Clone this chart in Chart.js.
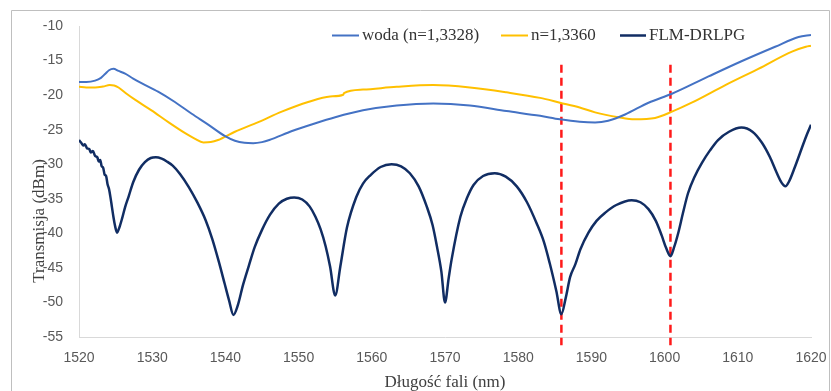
<!DOCTYPE html>
<html>
<head>
<meta charset="utf-8">
<script src="https://cdn.jsdelivr.net/npm/chart.js@4.4.1/dist/chart.umd.min.js"></script>
<style>
html,body{margin:0;padding:0;background:#fff;}
#wrap{width:831px;height:391px;position:relative;}
</style>
</head>
<body>
<div id="wrap"><canvas id="c" width="831" height="391"></canvas></div>
<script>
// ---- data ----
const xTicks = [1520, 1530, 1540, 1550, 1560, 1570, 1580, 1590, 1600, 1610, 1620];
const yTicks = [-10, -15, -20, -25, -30, -35, -40, -45, -50, -55];
const seriesNames = ['woda (n=1,3328)', 'n=1,3360', 'FLM-DRLPG'];

const wodaX = [1520.0,1521.0,1522.2,1523.0,1523.6,1524.1,1524.7,1525.4,1526.3,1527.4,1528.6,1530.8,1533.1,1535.4,1537.7,1539.9,1541.3,1542.6,1543.8,1545.0,1546.0,1549.1,1552.2,1555.0,1558.8,1563.4,1568.4,1573.4,1578.4,1583.0,1585.7,1588.4,1590.5,1592.3,1594.6,1597.8,1601.0,1606.0,1610.5,1615.1,1618.3,1620.0];
const wodaY = [-18.1,-18.1,-17.9,-17.5,-16.9,-16.4,-16.2,-16.5,-16.9,-17.6,-18.3,-19.5,-21.0,-22.7,-24.3,-25.9,-26.6,-26.9,-26.95,-26.8,-26.5,-25.2,-24.1,-23.2,-22.2,-21.5,-21.2,-21.5,-22.3,-23.0,-23.5,-23.85,-23.95,-23.7,-22.8,-21.1,-19.8,-17.3,-15.1,-13.0,-11.6,-11.3];

const n1336X = [1520.0,1521.0,1522.2,1523.3,1524.2,1524.8,1525.4,1526.5,1527.7,1529.9,1532.2,1534.5,1535.8,1537.0,1538.0,1539.0,1541.3,1544.5,1547.7,1551.3,1554.3,1556.1,1556.2,1558.8,1563.4,1568.4,1573.4,1578.4,1583.0,1585.7,1588.4,1590.5,1593.7,1595.9,1598.7,1601.0,1603.7,1608.3,1612.8,1617.4,1619.3,1620.0];
const n1336Y = [-18.8,-18.9,-18.9,-18.75,-18.55,-18.6,-18.9,-19.8,-20.7,-22.2,-23.9,-25.5,-26.3,-26.85,-26.8,-26.5,-25.3,-23.9,-22.4,-21.0,-20.2,-19.95,-19.7,-19.2,-18.8,-18.55,-18.9,-19.6,-20.4,-21.1,-21.8,-22.5,-23.2,-23.5,-23.3,-22.4,-21.1,-18.55,-16.2,-13.7,-13.0,-12.85];

const flmX = [1520.0,1520.3,1520.6,1520.8,1521.1,1521.4,1521.6,1521.9,1522.2,1522.5,1522.7,1522.9,1523.1,1523.3,1523.5,1523.7,1523.9,1524.1,1524.3,1524.5,1524.7,1524.9,1525.2,1525.5,1525.9,1526.3,1526.8,1527.4,1528.2,1529.0,1529.8,1530.5,1531.3,1532.0,1532.8,1533.8,1535.0,1536.2,1537.3,1538.2,1539.1,1539.9,1540.5,1541.1,1541.7,1542.4,1543.2,1544.0,1545.0,1546.1,1547.3,1548.4,1549.4,1550.5,1551.5,1552.3,1553.0,1553.7,1554.3,1555.0,1555.7,1556.6,1557.9,1558.8,1559.8,1561.2,1562.7,1564.0,1565.2,1566.4,1567.5,1568.3,1568.9,1569.5,1570.0,1570.5,1570.9,1572.1,1573.0,1573.9,1575.2,1576.8,1578.3,1579.8,1581.2,1582.5,1583.5,1584.3,1585.2,1585.9,1586.5,1587.1,1587.8,1588.5,1589.6,1590.7,1591.9,1593.4,1595.5,1596.7,1597.8,1598.8,1599.6,1600.2,1600.8,1601.3,1601.9,1602.5,1603.2,1604.1,1605.1,1606.2,1607.3,1608.8,1610.5,1612.0,1613.3,1614.4,1615.3,1616.0,1616.5,1617.0,1617.8,1618.7,1619.4,1620.0];
const flmY = [-26.5,-26.9,-27.3,-27.1,-27.7,-27.8,-28.3,-28.1,-28.8,-29.0,-29.6,-29.4,-30.3,-30.5,-31.5,-31.7,-32.9,-33.6,-34.8,-36.2,-37.6,-38.8,-39.9,-39.2,-37.8,-36.2,-34.6,-32.6,-30.8,-29.7,-29.1,-29.0,-29.2,-29.6,-30.2,-31.4,-33.3,-35.6,-38.1,-40.8,-44.1,-47.3,-49.7,-51.8,-50.4,-47.5,-44.7,-42.0,-39.5,-37.3,-35.7,-35.0,-34.8,-35.1,-36.1,-37.6,-39.4,-41.9,-44.8,-49.0,-44.8,-39.2,-34.7,-32.8,-31.6,-30.4,-30.0,-30.3,-31.3,-33.2,-36.1,-38.8,-41.9,-45.5,-50.0,-46.5,-43.8,-37.6,-34.9,-33.0,-31.7,-31.3,-31.8,-33.2,-35.5,-38.5,-41.2,-44.3,-48.3,-51.7,-49.3,-46.3,-44.5,-42.3,-39.9,-38.2,-37.0,-35.9,-35.2,-35.5,-36.5,-38.2,-40.3,-42.1,-43.3,-42.0,-39.8,-37.1,-34.2,-31.8,-29.8,-28.0,-26.5,-25.3,-24.7,-25.3,-26.9,-29.0,-31.2,-32.7,-33.2,-32.5,-30.4,-27.8,-25.8,-24.3];

const markerX = [1585.9, 1600.8];
const markerY = [-15.6, -56.2];

// ---- build datasets ----
const pts = (xs, ys) => xs.map((x, i) => ({x: x, y: ys[i]}));
const colors = ['#4472c4', '#ffc000', '#112d63'];

const datasets = [
  {label: seriesNames[0], data: pts(wodaX, wodaY), borderColor: colors[0], borderWidth: 2},
  {label: seriesNames[1], data: pts(n1336X, n1336Y), borderColor: colors[1], borderWidth: 2},
  {label: seriesNames[2], data: pts(flmX, flmY), borderColor: colors[2], borderWidth: 2.5},
].map(d => Object.assign(d, {pointRadius: 0, cubicInterpolationMode: 'monotone', fill: false}));

markerX.forEach(mx => {
  datasets.push({
    label: 'marker', data: [{x: mx, y: markerY[0]}, {x: mx, y: markerY[1]}],
    borderColor: '#ff1a1a', borderWidth: 2.5, borderDash: [8, 5], pointRadius: 0,
    clip: false
  });
});

const serif = '"Liberation Serif", "Times New Roman", serif';
const sans = '"Liberation Sans", Arial, sans-serif';

const framePlugin = {
  id: 'frame',
  beforeDraw(chart) {
    const ctx = chart.ctx;
    ctx.save();
    ctx.strokeStyle = '#bfbfbf';
    ctx.lineWidth = 1;
    ctx.beginPath();
    ctx.moveTo(11.5, 400);
    ctx.lineTo(11.5, 10.5);
    ctx.lineTo(829.5, 10.5);
    ctx.lineTo(829.5, 400);
    ctx.stroke();
    ctx.restore();
  },
  afterDraw(chart) {
    const ctx = chart.ctx;
    ctx.save();
    const items = [
      {x0: 332, x1: 359, tx: 362},
      {x0: 501, x1: 528, tx: 531},
      {x0: 620, x1: 646, tx: 649}
    ];
    ctx.font = '17px ' + serif;
    ctx.textBaseline = 'middle';
    ctx.textAlign = 'left';
    items.forEach((it, i) => {
      ctx.strokeStyle = colors[i];
      ctx.lineWidth = i === 2 ? 2.5 : 2;
      ctx.beginPath();
      ctx.moveTo(it.x0, 35.5);
      ctx.lineTo(it.x1, 35.5);
      ctx.stroke();
      ctx.fillStyle = '#333333';
      ctx.fillText(seriesNames[i], it.tx, 36);
    });
    ctx.translate(40, 221);
    ctx.rotate(-Math.PI / 2);
    ctx.textAlign = 'center';
    ctx.fillStyle = '#404040';
    ctx.fillText('Transmisja (dBm)', 0, 0);
    ctx.restore();
  }
};

new Chart(document.getElementById('c'), {
  type: 'line',
  data: {datasets: datasets},
  options: {
    responsive: false,
    animation: false,
    layout: {padding: {top: 26, right: 20, left: 0, bottom: 0}},
    plugins: {legend: {display: false}, tooltip: {enabled: false}},
    scales: {
      x: {
        type: 'linear', min: 1520, max: 1620,
        afterBuildTicks: s => { s.ticks = xTicks.map(v => ({value: v})); },
        afterFit: s => { s.height = 54; s.paddingLeft = 0; s.paddingRight = 0; },
        grid: {display: true, drawOnChartArea: false, drawTicks: false},
        border: {display: true, color: '#d9d9d9', width: 1},
        ticks: {color: '#595959', padding: 13, maxRotation: 0, callback: v => String(v),
                font: {family: sans, size: 14}},
        title: {display: true, text: 'Długość fali (nm)', color: '#404040', padding: {top: 0, bottom: -2},
                font: {family: serif, size: 17}}
      },
      y: {
        type: 'linear', min: -55, max: -10,
        afterBuildTicks: s => { s.ticks = yTicks.map(v => ({value: v})); },
        afterFit: s => { s.width = 79; },
        grid: {display: true, drawOnChartArea: false, drawTicks: false},
        border: {display: true, color: '#d9d9d9', width: 1},
        ticks: {color: '#595959', padding: 16, callback: v => String(v), font: {family: sans, size: 14}}
      }
    }
  },
  plugins: [framePlugin]
});
</script>
</body>
</html>
